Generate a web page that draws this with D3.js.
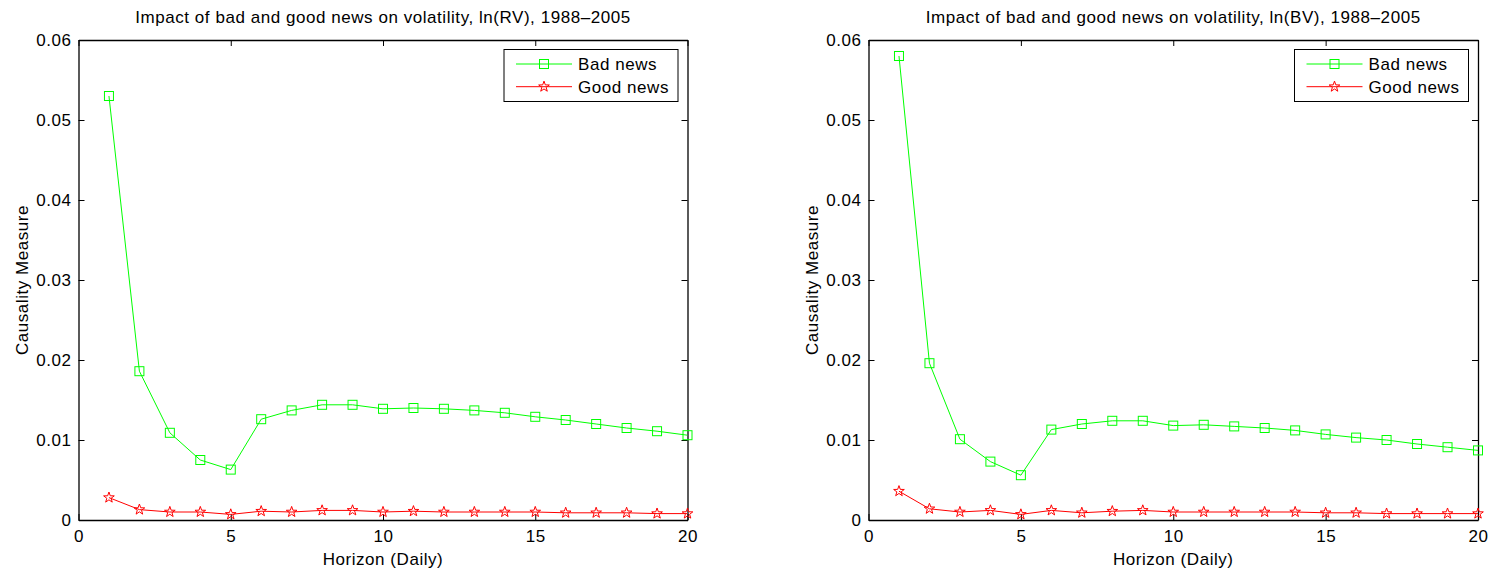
<!DOCTYPE html>
<html>
<head>
<meta charset="utf-8">
<script src="https://cdn.jsdelivr.net/npm/d3@7"></script>
<style>
  html, body { margin: 0; padding: 0; background: #fff; }
  svg { display: block; }
  text { font-family: "Liberation Sans", Arial, Helvetica, sans-serif; fill: #000; }
</style>
</head>
<body>
<svg id="chart" width="1498" height="573"></svg>
<script>
// ---- data ----
const horizons = [1,2,3,4,5,6,7,8,9,10,11,12,13,14,15,16,17,18,19,20];

const badNewsRV = [0.0530, 0.0186, 0.0109, 0.0075, 0.0063, 0.0126, 0.0137, 0.0144, 0.0144, 0.0139,
                   0.0140, 0.0139, 0.0137, 0.0134, 0.0129, 0.0125, 0.0120, 0.0115, 0.0111, 0.0106];
const goodNewsRV = [0.0028, 0.0013, 0.0010, 0.0010, 0.0007, 0.0011, 0.0010, 0.0012, 0.0012, 0.0010,
                    0.0011, 0.0010, 0.0010, 0.0010, 0.0010, 0.0009, 0.0009, 0.0009, 0.0008, 0.0008];

const badNewsBV = [0.0580, 0.0196, 0.0101, 0.0073, 0.0056, 0.0113, 0.0120, 0.0124, 0.0124, 0.0118,
                   0.0119, 0.0117, 0.0115, 0.0112, 0.0107, 0.0103, 0.0100, 0.0095, 0.0091, 0.0087];
const goodNewsBV = [0.0036, 0.0014, 0.0010, 0.0012, 0.0007, 0.0012, 0.0009, 0.0011, 0.0012, 0.0010,
                    0.0010, 0.0010, 0.0010, 0.0010, 0.0009, 0.0009, 0.0008, 0.0008, 0.0008, 0.0008];

const xTicks = [0, 5, 10, 15, 20];
const xTickLabels = ["0", "5", "10", "15", "20"];
const yTicks = [0, 0.01, 0.02, 0.03, 0.04, 0.05, 0.06];
const yTickLabels = ["0", "0.01", "0.02", "0.03", "0.04", "0.05", "0.06"];

const seriesNames = ["Bad news", "Good news"];
const titles = [
  "Impact of bad and good news on volatility, ln(RV), 1988\u20132005",
  "Impact of bad and good news on volatility, ln(BV), 1988\u20132005"
];
const xLabel = "Horizon (Daily)";
const yLabel = "Causality Measure";

// ---- layout ----
const panels = [
  { left: 78.5, right: 687.5, title: titles[0], bad: badNewsRV, good: goodNewsRV },
  { left: 868.5, right: 1478, title: titles[1], bad: badNewsBV, good: goodNewsBV }
];
const yTop = 40, yBottom = 520;
const FONT = 17, LS = "0.55px";
const GREEN = "#00ff00", RED = "#ff0000";

const svg = d3.select("#chart");

function starPath(R) {
  const r = R * 0.4;
  const pts = [];
  for (let i = 0; i < 10; i++) {
    const a = -Math.PI / 2 + i * Math.PI / 5;
    const rr = i % 2 === 0 ? R : r;
    pts.push([rr * Math.cos(a), rr * Math.sin(a)]);
  }
  return "M" + pts.map(p => p[0].toFixed(2) + "," + p[1].toFixed(2)).join("L") + "Z";
}
const STAR = starPath(5.6);
const SQ = 4.5;

function drawMarker(g, type, color) {
  if (type === "square") {
    g.append("rect").attr("x", -SQ).attr("y", -SQ).attr("width", 2 * SQ).attr("height", 2 * SQ)
      .attr("fill", "none").attr("stroke", color).attr("stroke-width", 1);
  } else {
    g.append("path").attr("d", STAR).attr("fill", "none").attr("stroke", color).attr("stroke-width", 1);
  }
}

function styleAxis(g, showLabels) {
  g.select(".domain").attr("stroke", "#000").attr("stroke-width", 1.3);
  g.selectAll(".tick line").attr("stroke", "#000").attr("stroke-width", 1);
  g.selectAll(".tick text")
    .style("font-size", FONT + "px")
    .style("letter-spacing", LS)
    .attr("fill", "#000");
  if (!showLabels) g.selectAll(".tick text").remove();
}

panels.forEach(p => {
  const x = d3.scaleLinear().domain([0, 20]).range([p.left, p.right]);
  const y = d3.scaleLinear().domain([0, 0.06]).range([yBottom, yTop]);
  const g = svg.append("g");

  // axes (MATLAB box with inward ticks)
  const ax = g.append("g").attr("transform", `translate(0,${yBottom})`)
    .call(d3.axisBottom(x).tickValues(xTicks).tickFormat((d, i) => xTickLabels[i])
      .tickSizeInner(-6).tickSizeOuter(0).tickPadding(10));
  styleAxis(ax, true);
  const axT = g.append("g").attr("transform", `translate(0,${yTop})`)
    .call(d3.axisTop(x).tickValues(xTicks).tickSizeInner(-6).tickSizeOuter(0));
  styleAxis(axT, false);
  const ay = g.append("g").attr("transform", `translate(${p.left},0)`)
    .call(d3.axisLeft(y).tickValues(yTicks).tickFormat((d, i) => yTickLabels[i])
      .tickSizeInner(-6).tickSizeOuter(0).tickPadding(7));
  styleAxis(ay, true);
  const ayR = g.append("g").attr("transform", `translate(${p.right},0)`)
    .call(d3.axisRight(y).tickValues(yTicks).tickSizeInner(-6).tickSizeOuter(0));
  styleAxis(ayR, false);

  // title
  g.append("text").attr("x", (p.left + p.right) / 2).attr("y", 23)
    .attr("text-anchor", "middle").style("font-size", FONT + "px").style("letter-spacing", LS)
    .text(p.title);
  // x label
  g.append("text").attr("x", (p.left + p.right) / 2).attr("y", 565)
    .attr("text-anchor", "middle").style("font-size", FONT + "px").style("letter-spacing", LS)
    .text(xLabel);
  // y label
  g.append("text").attr("transform", `translate(${p.left - 50.5},${(yTop + yBottom) / 2}) rotate(-90)`)
    .attr("text-anchor", "middle").style("font-size", FONT + "px").style("letter-spacing", LS)
    .text(yLabel);

  const line = d3.line().x((d, i) => x(horizons[i])).y(d => y(d));

  const series = [
    { values: p.bad, color: GREEN, marker: "square" },
    { values: p.good, color: RED, marker: "star" }
  ];
  series.forEach(s => {
    g.append("path").datum(s.values).attr("d", line)
      .attr("fill", "none").attr("stroke", s.color).attr("stroke-width", 1);
    s.values.forEach((v, i) => {
      const m = g.append("g").attr("transform", `translate(${x(horizons[i])},${y(v)})`);
      drawMarker(m, s.marker, s.color);
    });
  });

  // legend
  const lw = 174, lh = 52;
  const lx = p.right - 9.5 - lw, ly = yTop + 9.5;
  const lg = g.append("g").attr("transform", `translate(${lx},${ly})`);
  lg.append("rect").attr("width", lw).attr("height", lh)
    .attr("fill", "#fff").attr("stroke", "#000").attr("stroke-width", 1);
  series.forEach((s, i) => {
    const yy = 14.5 + i * 22.7;
    lg.append("line").attr("x1", 12).attr("x2", 68).attr("y1", yy).attr("y2", yy)
      .attr("stroke", s.color).attr("stroke-width", 1);
    const m = lg.append("g").attr("transform", `translate(40,${yy})`);
    drawMarker(m, s.marker, s.color);
    lg.append("text").attr("x", 74).attr("y", yy).attr("dy", "0.35em")
      .style("font-size", FONT + "px").style("letter-spacing", LS)
      .text(seriesNames[i]);
  });
});
</script>
</body>
</html>
